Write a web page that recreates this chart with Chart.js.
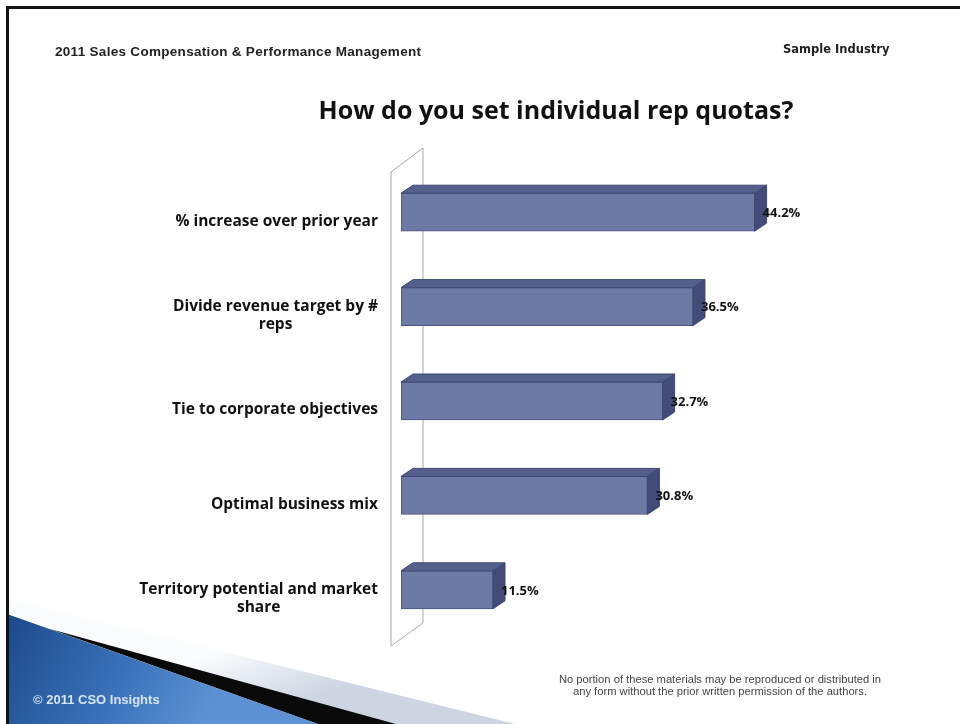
<!DOCTYPE html>
<html>
<head>
<meta charset="utf-8">
<script src="https://cdn.jsdelivr.net/npm/chart.js@4.4.1/dist/chart.umd.min.js"></script>
<style>
  body { margin: 0; background: #fff; }
  #slide { position: relative; width: 960px; height: 724px; overflow: hidden; }
  #slide canvas { position: absolute; left: 0; top: 0; }
  .txt { position: absolute; white-space: nowrap; }
  #cabecera { left: 55px; top: 44px; font: bold 13.5px "Liberation Sans", Arial, sans-serif; color: #222; letter-spacing: 0.3px; }
  #industria { left: 783px; top: 42px; font: bold 11.5px "DejaVu Sans", Verdana, sans-serif; color: #222; }
  #titulo { left: 0; width: 1112px; top: 92px; text-align: center; font: bold 25px "Open Sans", Lato, sans-serif; color: #111; }
  #aviso { left: 520px; width: 400px; top: 673px; text-align: center; font: 11.2px/12px "Liberation Sans Narrow", "Liberation Sans", sans-serif; color: #444; }
  #copy { left: 33px; top: 692px; font: bold 13px "Liberation Sans", Arial, sans-serif; color: #d6e4f5; }
</style>
</head>
<body>
<div id="slide">
  <canvas id="graficoCuotas" width="960" height="724"></canvas>
  <div class="txt" id="cabecera">2011 Sales Compensation &amp; Performance Management</div>
  <div class="txt" id="industria">Sample Industry</div>
  <div class="txt" id="titulo">How do you set individual rep quotas?</div>
  <div class="txt" id="aviso">No portion of these materials may be reproduced or distributed in<br>any form without the prior written permission of the authors.</div>
  <div class="txt" id="copy">© 2011 CSO Insights</div>
</div>
<script>
// Categorías y porcentajes
const categorias = [
    '% increase over prior year',
    ['Divide revenue target by #', 'reps'],
    'Tie to corporate objectives',
    'Optimal business mix',
    ['Territory potential and market', 'share']
];
const porcentajes = [44.2, 36.5, 32.7, 30.8, 11.5];

// Profundidad del efecto 3D
const prof = { dx: 12, dy: 8 };
const fuenteEtiquetas = 'bold 15.5px "Open Sans", Lato, sans-serif';

// Fondo: marco y la franja azul de la esquina inferior
const fondoDiapositiva = {
    id: 'fondoDiapositiva',
    beforeDraw(chart) {
        const c = chart.ctx;
        c.save();
        // franja gris clara
        let g = c.createLinearGradient(220, 650, 250, 724);
        g.addColorStop(0, '#fbfcfd');
        g.addColorStop(1, '#cdd5e3');
        c.fillStyle = g;
        c.beginPath();
        c.moveTo(7, 598); c.lineTo(515, 724); c.lineTo(7, 724); c.closePath();
        c.fill();
        // franja negra
        c.fillStyle = '#0a0a0a';
        c.beginPath();
        c.moveTo(50, 629); c.lineTo(396, 724); c.lineTo(318, 724); c.closePath();
        c.fill();
        // zona azul
        g = c.createLinearGradient(0, 620, 200, 724);
        g.addColorStop(0, '#1b4889');
        g.addColorStop(0.6, '#3b72ba');
        g.addColorStop(1, '#5d91d3');
        c.fillStyle = g;
        c.beginPath();
        c.moveTo(7, 614); c.lineTo(318, 724); c.lineTo(7, 724); c.closePath();
        c.fill();
        // marco
        c.fillStyle = '#111';
        c.fillRect(6, 6, 954, 3);
        c.fillRect(6, 6, 3, 718);
        c.restore();
    }
};

// Pared lateral del gráfico (detrás de las barras)
const pared = {
    id: 'pared',
    beforeDatasetsDraw(chart) {
        const { left, top, bottom } = chart.chartArea;
        const c = chart.ctx;
        c.save();
        c.beginPath();
        c.moveTo(left - 10, top + 7);
        c.lineTo(left + 22, top - 17);
        c.lineTo(left + 22, bottom - 14);
        c.lineTo(left - 10, bottom + 9);
        c.closePath();
        c.fillStyle = '#ffffff';
        c.fill();
        c.strokeStyle = '#a8a8a8';
        c.lineWidth = 1;
        c.stroke();
        c.restore();
    }
};

// Etiquetas de categoría: bloque alineado a la derecha, líneas centradas
const etiquetasCategoria = {
    id: 'etiquetasCategoria',
    afterDraw(chart) {
        const escala = chart.scales.y;
        const c = chart.ctx;
        const derecha = chart.chartArea.left - 23;
        const alto = 18;
        c.save();
        c.font = fuenteEtiquetas;
        c.fillStyle = '#111';
        c.textAlign = 'center';
        c.textBaseline = 'middle';
        categorias.forEach((cat, i) => {
            const lineas = Array.isArray(cat) ? cat : [cat];
            const ancho = Math.max(...lineas.map(l => c.measureText(l).width));
            const cx = derecha - ancho / 2;
            const yc = escala.getPixelForTick(i) + 9;
            lineas.forEach((l, j) => {
                c.fillText(l, cx, yc + (j - (lineas.length - 1) / 2) * alto);
            });
        });
        c.restore();
    }
};

// Caras superior y lateral de cada barra, y la etiqueta del valor
const barras3d = {
    id: 'barras3d',
    afterDatasetsDraw(chart) {
        const c = chart.ctx;
        const meta = chart.getDatasetMeta(0);
        c.save();
        meta.data.forEach((barra, i) => {
            const p = barra.getProps(['x', 'y', 'base', 'height'], true);
            const x0 = p.base, x1 = p.x;
            const y0 = p.y - p.height / 2, y1 = p.y + p.height / 2;
            c.lineWidth = 1;
            c.strokeStyle = '#3f4872';
            // cara superior
            c.beginPath();
            c.moveTo(x0, y0); c.lineTo(x0 + prof.dx, y0 - prof.dy);
            c.lineTo(x1 + prof.dx, y0 - prof.dy); c.lineTo(x1, y0); c.closePath();
            c.fillStyle = '#545f8c';
            c.fill(); c.stroke();
            // cara lateral
            c.beginPath();
            c.moveTo(x1, y0); c.lineTo(x1 + prof.dx, y0 - prof.dy);
            c.lineTo(x1 + prof.dx, y1 - prof.dy); c.lineTo(x1, y1); c.closePath();
            c.fillStyle = '#434c78';
            c.fill(); c.stroke();
            // valor
            c.fillStyle = '#111';
            c.font = 'bold 13px "Open Sans", Lato, sans-serif';
            c.textAlign = 'left';
            c.textBaseline = 'middle';
            c.fillText(porcentajes[i].toFixed(1) + '%', x1 + 8, p.y + 1);
        });
        c.restore();
    }
};

const ctx = document.getElementById('graficoCuotas').getContext('2d');
const graficoCuotas = new Chart(ctx, {
    type: 'bar',
    data: {
        labels: categorias,
        datasets: [{
            label: 'Quotas',
            data: porcentajes,
            backgroundColor: '#6e7aa6',
            borderColor: '#4a5482',
            borderWidth: 1,
            borderSkipped: false,
            barThickness: 38
        }]
    },
    options: {
        indexAxis: 'y',
        responsive: false,
        animation: false,
        layout: { padding: { left: 0, right: 79, top: 165, bottom: 87 } },
        plugins: {
            legend: { display: false },
            tooltip: { enabled: false }
        },
        scales: {
            x: { display: false, min: 0, max: 60 },
            y: {
                grid: { display: false, drawTicks: false },
                border: { display: false },
                afterFit(scale) { scale.width = 401; },
                ticks: { display: false }
            }
        }
    },
    plugins: [fondoDiapositiva, pared, barras3d, etiquetasCategoria]
});
</script>
</body>
</html>
